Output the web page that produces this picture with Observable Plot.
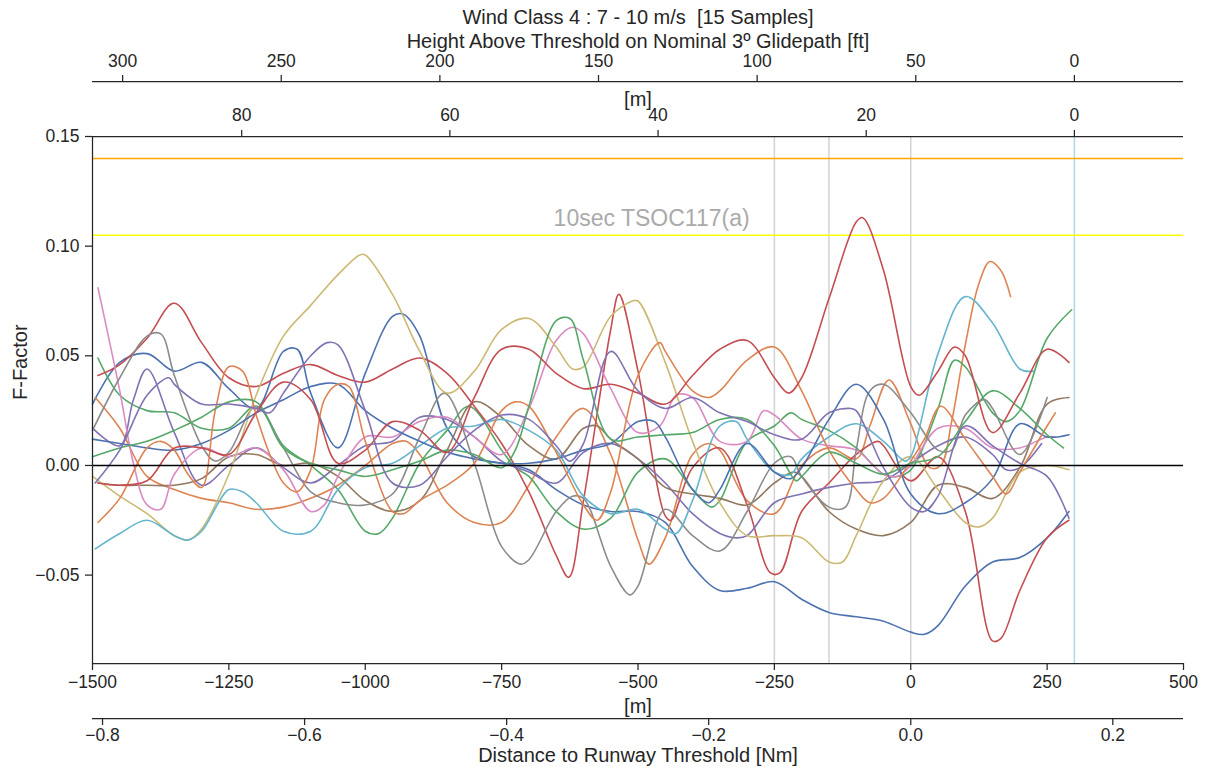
<!DOCTYPE html>
<html><head><meta charset="utf-8">
<script src="https://cdn.jsdelivr.net/npm/d3@7"></script>
<script src="https://cdn.jsdelivr.net/npm/@observablehq/plot@0.6"></script>
<style>
html,body{margin:0;padding:0;background:#fff;}
#chart{width:1205px;height:767px;}
#chart svg [aria-label$="tick label"], #chart svg [aria-label$="tick label"] text{font-size:17.5px !important;}
</style></head><body><div id="chart"></div>
<script>
// ---------- axis definitions ----------
const distanceDomain = [-1500, 500];
const fDomain = [-0.0903, 0.15];
const distanceTicks = [-1500, -1250, -1000, -750, -500, -250, 0, 250, 500];
const fTicks = [-0.05, 0, 0.05, 0.10, 0.15];
const nmTicks = [-0.8, -0.6, -0.4, -0.2, 0.0, 0.2];
const heightMTicks = [0, 20, 40, 60, 80];
const heightFtTicks = [0, 50, 100, 150, 200, 250, 300];
const glidepathOrigin = 300;      // m, where the 3° glidepath reaches 0 height
const glideSlopeDeg = 3;
const tsocLevel = 0.14;
const tsocTenSecLevel = 0.105;
const markerGray = [-250, -150, 0];
const markerBlue = [300];
const tsocLabel = {distance: -475, f: 0.1125, text: "10sec TSOC117(a)"};

// ---------- series: [distance m, F-factor] ----------
const blueA = [[-1500,0.028],[-1450,0.047],[-1400,0.051],[-1350,0.043],[-1300,0.047],[-1250,0.035],[-1200,0.026],[-1150,0.052],[-1125,0.053],[-1100,0.033],[-1050,0.008],[-1000,0.042],[-950,0.068],[-930,0.069],[-900,0.059],[-850,0.017],[-800,0.004],[-750,0.001],[-700,-0.002],[-650,-0.011],[-600,-0.018],[-550,-0.021],[-500,-0.021],[-450,-0.026],[-400,-0.046],[-350,-0.057],[-300,-0.056],[-250,-0.053],[-200,-0.061],[-150,-0.067],[-100,-0.069],[-50,-0.071],[0,-0.076],[25,-0.077],[50,-0.073],[100,-0.055],[150,-0.044],[200,-0.042],[250,-0.033],[290,-0.021]];
const orangeA = [[-1495,0.031],[-1450,0.017],[-1400,-0.005],[-1350,-0.011],[-1300,-0.015],[-1250,-0.017],[-1200,-0.020],[-1150,-0.019],[-1100,-0.015],[-1050,-0.009],[-1000,0.000],[-950,0.010],[-925,0.011],[-900,0.005],[-850,-0.017],[-800,-0.026],[-750,-0.026],[-700,-0.009],[-650,0.013],[-600,0.026],[-550,0.005],[-500,-0.034],[-480,-0.045],[-450,-0.033],[-400,0.005],[-370,0.010],[-350,0.007],[-300,-0.016],[-250,-0.022],[-200,0.000],[-150,0.008],[-100,0.003],[-75,0.018],[-40,0.039],[0,0.019],[35,-0.001],[55,0.000],[75,0.020],[100,0.055],[125,0.083],[145,0.093],[165,0.089],[183,0.077]];
const greenA = [[-1490,0.049],[-1450,0.032],[-1400,0.025],[-1350,0.024],[-1300,0.017],[-1250,0.017],[-1200,0.027],[-1150,0.009],[-1100,0.000],[-1050,-0.011],[-1000,-0.030],[-975,-0.031],[-950,-0.024],[-900,0.001],[-850,0.016],[-810,0.027],[-750,0.007],[-725,-0.001],[-700,-0.005],[-650,-0.021],[-600,-0.029],[-550,-0.024],[-500,-0.003],[-450,0.003],[-400,-0.011],[-365,-0.019],[-350,-0.016],[-300,0.011],[-250,0.018],[-220,0.024],[-200,0.021],[-150,0.016],[-100,0.008],[-50,-0.004],[-25,-0.005],[0,-0.002],[50,0.026],[80,0.048],[100,0.045],[150,0.024],[175,0.020],[200,0.025],[250,0.058],[295,0.071]];
const redA = [[-1490,0.041],[-1450,0.046],[-1400,0.058],[-1350,0.074],[-1300,0.056],[-1250,0.040],[-1200,0.036],[-1150,0.042],[-1100,0.046],[-1050,0.041],[-1000,0.038],[-950,0.044],[-900,0.049],[-850,0.042],[-800,0.027],[-750,0.010],[-700,-0.012],[-650,-0.041],[-627,-0.051],[-600,-0.016],[-550,0.062],[-535,0.078],[-500,0.043],[-450,-0.023],[-440,-0.025],[-400,-0.001],[-350,0.008],[-300,-0.018],[-257,-0.049],[-240,-0.049],[-200,-0.021],[-150,-0.008],[-100,0.005],[-60,0.011],[-50,0.009],[0,-0.007],[50,0.004],[100,-0.021],[150,-0.080],[165,-0.079],[200,-0.057],[250,-0.033],[290,-0.025]];
const purpleA = [[-1500,0.017],[-1450,0.009],[-1425,0.030],[-1400,0.044],[-1350,0.015],[-1300,-0.009],[-1250,0.000],[-1200,0.008],[-1150,-0.001],[-1100,-0.008],[-1050,0.000],[-1000,0.009],[-950,0.011],[-900,0.022],[-850,0.021],[-800,0.013],[-750,0.002],[-700,-0.003],[-650,-0.008],[-600,0.006],[-550,0.010],[-500,0.003],[-450,-0.008],[-400,-0.022],[-350,-0.031],[-320,-0.033],[-300,-0.032],[-250,-0.017],[-200,-0.013],[-150,-0.010],[-100,-0.008],[-50,-0.007],[0,0.001],[50,0.009],[100,0.013],[150,0.005],[175,-0.002],[200,-0.001],[240,0.010]];
const brown = [[-1490,-0.008],[-1450,-0.009],[-1400,-0.009],[-1350,-0.009],[-1300,-0.006],[-1250,0.004],[-1200,0.005],[-1150,0.000],[-1100,0.001],[-1050,-0.005],[-1000,-0.016],[-950,-0.021],[-900,-0.016],[-850,0.007],[-800,0.029],[-750,0.022],[-700,0.009],[-650,0.003],[-600,0.017],[-575,0.018],[-550,0.012],[-500,0.003],[-450,-0.010],[-400,-0.013],[-350,-0.015],[-300,-0.018],[-250,-0.008],[-215,-0.003],[-200,-0.005],[-150,-0.021],[-100,-0.029],[-50,-0.032],[0,-0.026],[50,-0.009],[100,-0.010],[150,-0.015],[200,-0.001],[250,0.028],[290,0.031]];
const pink = [[-1490,0.081],[-1450,0.034],[-1425,0.001],[-1400,-0.018],[-1375,-0.020],[-1350,-0.004],[-1300,0.008],[-1250,0.004],[-1200,0.008],[-1150,-0.002],[-1100,-0.021],[-1075,-0.018],[-1050,-0.005],[-1000,0.013],[-950,0.013],[-900,0.020],[-850,0.022],[-800,0.013],[-750,0.005],[-700,0.026],[-650,0.057],[-620,0.063],[-600,0.060],[-550,0.035],[-500,0.015],[-460,0.018],[-430,0.032],[-400,0.031],[-350,0.011],[-300,0.011],[-270,0.025],[-250,0.023],[-200,0.012],[-150,0.009],[-100,0.007],[-50,-0.004],[-25,-0.005],[0,0.000],[50,0.017],[100,0.017],[150,0.008],[200,0.008],[250,0.013],[265,0.013]];
const gray = [[-1500,0.016],[-1450,0.040],[-1400,0.059],[-1375,0.060],[-1350,0.041],[-1300,0.009],[-1275,0.002],[-1250,0.006],[-1200,0.027],[-1150,0.008],[-1100,-0.012],[-1050,-0.017],[-1000,-0.018],[-950,-0.013],[-900,0.013],[-855,0.033],[-800,0.001],[-750,-0.037],[-715,-0.045],[-700,-0.043],[-650,-0.021],[-620,-0.014],[-600,-0.015],[-550,-0.046],[-515,-0.059],[-500,-0.055],[-450,-0.020],[-400,-0.032],[-350,-0.039],[-300,-0.021],[-250,0.001],[-220,0.004],[-200,-0.005],[-150,-0.019],[-120,-0.019],[-100,0.007],[-75,0.034],[-50,0.037],[0,0.024],[50,0.007],[75,0.007],[100,0.023],[135,0.030],[150,0.026],[200,0.005],[250,0.031]];
const khaki = [[-1500,-0.005],[-1450,-0.014],[-1400,-0.022],[-1350,-0.032],[-1325,-0.034],[-1300,-0.029],[-1250,-0.004],[-1200,0.032],[-1150,0.059],[-1100,0.073],[-1050,0.087],[-1010,0.096],[-1000,0.096],[-950,0.078],[-900,0.052],[-850,0.033],[-800,0.043],[-750,0.062],[-700,0.067],[-650,0.054],[-620,0.044],[-600,0.045],[-550,0.068],[-510,0.075],[-500,0.075],[-450,0.047],[-400,0.011],[-350,-0.017],[-300,-0.032],[-250,-0.032],[-200,-0.033],[-150,-0.044],[-125,-0.044],[-100,-0.032],[-50,-0.007],[0,0.004],[50,-0.011],[100,-0.026],[125,-0.028],[150,-0.024],[200,-0.003],[250,0.000],[290,-0.002]];
const cyan = [[-1495,-0.038],[-1450,-0.031],[-1400,-0.025],[-1350,-0.032],[-1325,-0.034],[-1300,-0.030],[-1250,-0.011],[-1225,-0.012],[-1200,-0.017],[-1150,-0.030],[-1100,-0.030],[-1050,-0.011],[-1000,-0.001],[-950,0.001],[-900,0.009],[-850,0.017],[-800,0.018],[-750,0.021],[-700,0.016],[-650,0.007],[-600,-0.014],[-550,-0.022],[-500,-0.020],[-450,-0.029],[-430,-0.031],[-400,-0.016],[-350,0.018],[-320,0.020],[-300,0.012],[-250,-0.003],[-220,-0.004],[-200,0.003],[-150,0.013],[-100,0.019],[-50,0.011],[-10,0.002],[0,0.004],[50,0.051],[100,0.077],[150,0.065],[200,0.044],[225,0.043]];
const blueB = [[-1500,0.012],[-1450,0.010],[-1400,0.008],[-1350,0.007],[-1300,0.010],[-1250,0.016],[-1200,0.024],[-1150,0.030],[-1100,0.036],[-1050,0.037],[-1000,0.025],[-950,0.017],[-900,0.011],[-850,0.006],[-800,0.003],[-750,0.001],[-700,0.001],[-650,0.003],[-600,0.007],[-550,0.010],[-500,0.020],[-470,0.020],[-450,0.013],[-400,-0.011],[-370,-0.017],[-350,-0.011],[-300,0.010],[-250,-0.003],[-220,-0.006],[-200,-0.001],[-150,0.021],[-100,0.037],[-50,0.021],[0,-0.013],[50,-0.022],[100,-0.017],[150,-0.006],[200,0.019],[250,0.013],[290,0.014]];
const orangeB = [[-1490,-0.026],[-1450,-0.015],[-1400,0.008],[-1375,0.011],[-1350,0.007],[-1325,-0.004],[-1300,-0.010],[-1275,0.025],[-1250,0.045],[-1225,0.043],[-1200,0.023],[-1175,0.005],[-1150,-0.008],[-1125,-0.012],[-1100,-0.002],[-1075,0.030],[-1050,0.037],[-1030,0.036],[-1000,0.011],[-950,-0.021],[-930,-0.022],[-900,-0.016],[-850,-0.009],[-800,0.001],[-750,0.025],[-725,0.029],[-700,0.027],[-650,0.006],[-600,-0.018],[-575,-0.025],[-550,-0.012],[-500,0.041],[-460,0.056],[-450,0.052],[-400,0.034],[-370,0.031],[-350,0.034],[-300,0.048],[-250,0.054],[-200,0.034],[-150,0.007],[-100,-0.011],[-75,-0.017],[-50,-0.015],[0,0.002],[25,0.012],[55,0.027],[100,0.012],[150,-0.005],[175,-0.013],[200,-0.003],[250,0.018],[265,0.024]];
const greenB = [[-1500,0.004],[-1450,0.008],[-1400,0.011],[-1350,0.016],[-1300,0.022],[-1250,0.029],[-1200,0.029],[-1150,0.008],[-1100,0.001],[-1050,-0.002],[-1000,-0.005],[-950,-0.002],[-900,0.002],[-850,0.007],[-800,0.005],[-750,-0.001],[-725,0.007],[-700,0.027],[-650,0.066],[-625,0.067],[-600,0.048],[-550,0.012],[-500,0.013],[-450,0.014],[-400,0.015],[-350,0.021],[-300,0.021],[-250,0.009],[-210,-0.007],[-200,-0.005],[-150,0.006],[-100,0.001],[-50,-0.004],[0,0.001],[50,0.004],[100,0.020],[150,0.034],[200,0.026],[250,0.014],[280,0.008]];
const redB = [[-1490,-0.008],[-1450,-0.009],[-1400,-0.007],[-1350,0.008],[-1300,0.008],[-1250,0.005],[-1200,0.024],[-1150,0.038],[-1100,0.030],[-1050,0.001],[-1000,0.007],[-950,0.020],[-900,0.016],[-850,0.006],[-800,0.031],[-750,0.053],[-700,0.053],[-650,0.042],[-600,0.035],[-550,0.037],[-500,0.033],[-450,0.028],[-400,0.041],[-350,0.053],[-300,0.057],[-250,0.040],[-224,0.033],[-200,0.040],[-150,0.076],[-100,0.111],[-88,0.113],[-50,0.089],[0,0.036],[15,0.032],[50,0.043],[80,0.054],[100,0.050],[150,0.015],[200,0.033],[250,0.053],[290,0.047]];
const purpleB = [[-1495,-0.008],[-1450,0.007],[-1400,0.032],[-1360,0.040],[-1350,0.037],[-1300,0.028],[-1250,0.028],[-1200,0.026],[-1175,0.024],[-1150,0.033],[-1100,0.050],[-1070,0.056],[-1050,0.055],[-1000,0.025],[-950,-0.008],[-900,-0.009],[-850,0.004],[-800,0.016],[-750,0.023],[-700,0.021],[-650,0.009],[-625,0.002],[-600,0.010],[-550,0.052],[-500,0.034],[-450,0.026],[-400,0.031],[-350,0.024],[-300,0.020],[-250,0.014],[-200,0.012],[-150,0.024],[-110,0.026],[-100,0.025],[-50,-0.001],[0,-0.019],[25,-0.021],[50,-0.014],[100,0.018],[150,0.009],[200,0.001],[250,-0.005],[290,-0.024]];

// seaborn "deep" palette
const deep = {blue:"#4C72B0", orange:"#DD8452", green:"#55A868", red:"#C44E52", purple:"#8172B3",
  brown:"#937860", pink:"#DA8BC3", gray:"#8C8C8C", khaki:"#CCB974", cyan:"#64B5CD"};
const seriesOrder = [
  [blueA, deep.blue], [orangeA, deep.orange], [greenA, deep.green], [redA, deep.red], [purpleA, deep.purple],
  [brown, deep.brown], [pink, deep.pink], [gray, deep.gray], [khaki, deep.khaki], [cyan, deep.cyan],
  [blueB, deep.blue], [orangeB, deep.orange], [greenB, deep.green], [redB, deep.red], [purpleB, deep.purple]
];

// ---------- secondary-axis conversions ----------
const tanG = Math.tan(glideSlopeDeg * Math.PI / 180);
const heightToDist = h => glidepathOrigin - h / tanG;
const distToHeight = d => (glidepathOrigin - d) * tanG;
const ftToDist = ft => heightToDist(ft * 0.3048);
const nmToDist = nm => nm * 1852;

const ink = "#262626";
const axisCommon = {tickSize: 7, stroke: ink, strokeWidth: 1.25, fill: ink, label: null};
const labelText = {fontSize: 20, fill: ink, lineAnchor: "middle"};

const lineMarks = seriesOrder.map(([pts, color]) =>
  Plot.line(pts, {x: d => d[0], y: d => d[1], stroke: color, strokeWidth: 1.6, curve: "catmull-rom"}));

const chart = Plot.plot({
  width: 1205, height: 767,
  marginLeft: 92, marginRight: 22, marginTop: 136, marginBottom: 104,
  x: {domain: distanceDomain},
  y: {domain: fDomain},
  style: {fontFamily: "'Liberation Sans', Arial, sans-serif", fontSize: "17.5px", color: ink, background: "#fff", overflow: "visible"},
  marks: [
    Plot.ruleX(markerGray, {stroke: "#d3d3d3", strokeWidth: 1.5}),
    Plot.ruleX(markerBlue, {stroke: "#add8e6", strokeWidth: 1.5}),
    Plot.ruleY([tsocLevel], {stroke: "#ffa500", strokeWidth: 1.5}),
    Plot.ruleY([tsocTenSecLevel], {stroke: "#ffff00", strokeWidth: 1.5}),
    ...lineMarks,
    Plot.ruleY([0], {stroke: "#000", strokeWidth: 1.5}),
    Plot.text([tsocLabel], {x: "distance", y: "f", text: "text", fill: "#aaaaaa", fontSize: 23}),
    // spines
    Plot.ruleY([fDomain[0]], {stroke: ink, strokeWidth: 1.25}),
    Plot.ruleY([fDomain[1]], {stroke: ink, strokeWidth: 1.25}),
    Plot.ruleX([distanceDomain[0]], {stroke: ink, strokeWidth: 1.25}),
    Plot.ruleY([fDomain[0]], {stroke: ink, strokeWidth: 1.25, dy: 55}),
    Plot.ruleY([fDomain[1]], {stroke: ink, strokeWidth: 1.25, dy: -55}),
    // axes
    Plot.axisY(fTicks, {...axisCommon, anchor: "left", tickPadding: 6, tickFormat: d3.format(".2f")}),
    Plot.axisX(distanceTicks, {...axisCommon, anchor: "bottom", tickPadding: 5, tickFormat: d3.format("d")}),
    Plot.axisX(nmTicks.map(nmToDist), {...axisCommon, anchor: "bottom", tickPadding: 3, dy: 55,
      tickFormat: d => d3.format(".1f")(d / 1852)}),
    Plot.axisX(heightMTicks.map(heightToDist), {...axisCommon, anchor: "top", tickPadding: 9,
      tickFormat: d => d3.format("d")(Math.round(distToHeight(d)))}),
    Plot.axisX(heightFtTicks.map(ftToDist), {...axisCommon, anchor: "top", tickPadding: 8, dy: -55,
      tickFormat: d => d3.format("d")(Math.round(distToHeight(d) / 0.3048))}),
    // titles & labels
    Plot.text(["Wind Class 4 : 7 - 10 m/s\u00a0 [15 Samples]"], {...labelText, frameAnchor: "top", dy: -119}),
    Plot.text(["Height Above Threshold on Nominal 3º Glidepath [ft]"], {...labelText, frameAnchor: "top", dy: -95}),
    Plot.text(["[m]"], {...labelText, frameAnchor: "top", dy: -37}),
    Plot.text(["[m]"], {...labelText, frameAnchor: "bottom", dy: 43}),
    Plot.text(["Distance to Runway Threshold [Nm]"], {...labelText, frameAnchor: "bottom", dy: 92}),
    Plot.text(["F-Factor"], {...labelText, frameAnchor: "left", dx: -72, rotate: -90})
  ]
});
document.getElementById("chart").appendChild(chart);
</script></body></html>
